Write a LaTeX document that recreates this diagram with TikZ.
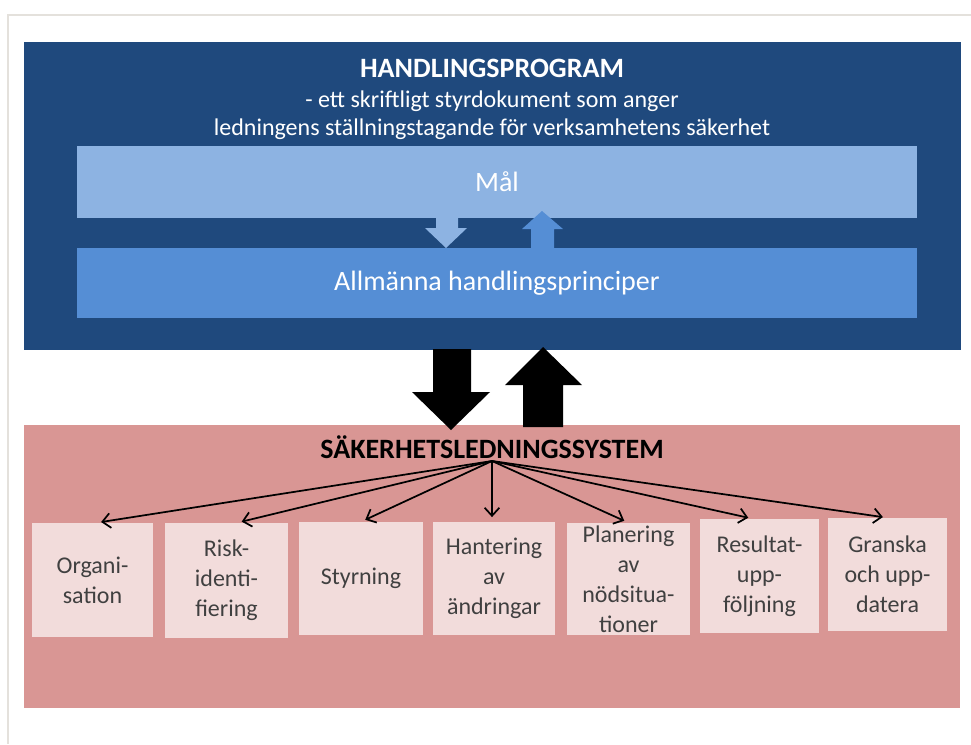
\documentclass[tikz,border=0pt]{standalone}
\usepackage{fontspec}
\setmainfont{Carlito}
\usetikzlibrary{arrows.meta}
\definecolor{dkblue}{HTML}{1F497D}
\definecolor{malblue}{HTML}{8DB3E2}
\definecolor{allmblue}{HTML}{558ED5}
\definecolor{pinkbg}{HTML}{D99694}
\definecolor{pinkbox}{HTML}{F2DCDB}
\definecolor{boxtxt}{HTML}{404040}
\definecolor{framegray}{HTML}{E4E1DC}
\begin{document}
\begin{tikzpicture}[x=0.75pt,y=-0.75pt,
  bigbox/.style={rectangle,inner sep=0pt,draw=none},
  subbox/.style={rectangle,inner sep=0pt,fill=pinkbox,draw=none},
  boxtext/.style={align=center,text=boxtxt,font=\fontsize{18}{22.5}\selectfont},
  whitetext/.style={text=white,align=center},
  conn/.style={line width=1.3pt,-{Straight Barb[length=6pt,width=11pt]},shorten >=3.5pt}]
\useasboundingbox (0,0) rectangle (971,744);
\fill[white] (0,0) rectangle (971,744);
\draw[framegray,line width=1.5pt] (8,744) -- (8,15) -- (971,15);

% top blue section
\node[bigbox,fill=dkblue,minimum width=702.75pt,minimum height=231pt] (prog) at (492.5,196) {};
\node[whitetext,font=\fontsize{21}{25}\selectfont\bfseries] (progtitle) at (492,68) {HANDLINGSPROGRAM};
\node[whitetext,font=\fontsize{18}{21}\selectfont] (sub1) at (492,101) {- ett skriftligt styrdokument som anger};
\node[whitetext,font=\fontsize{18}{21}\selectfont] (sub2) at (492,129) {ledningens ställningstagande för verksamhetens säkerhet};
\node[bigbox,fill=malblue,minimum width=630pt,minimum height=54pt,text=white,font=\fontsize{21}{25}\selectfont] (mal) at (497,182) {Mål};
\node[bigbox,fill=allmblue,minimum width=630pt,minimum height=52.5pt,text=white,font=\fontsize{21}{25}\selectfont] (allm) at (497,283) {Allmänna handlingsprinciper};
\fill[malblue] (436,217) -- (458,217) -- (458,228) -- (467,228) -- (446,248) -- (425,228) -- (436,228) -- cycle;
\fill[allmblue] (531,249) -- (554,249) -- (554,229) -- (563,229) -- (542,211) -- (522,229) -- (531,229) -- cycle;

% bottom pink section
\node[bigbox,fill=pinkbg,minimum width=702pt,minimum height=212.25pt] (sls) at (492,566.5) {};
\node[font=\fontsize{21}{25}\selectfont\bfseries,text=black] (slstitle) at (492,447) {SÄKERHETSLEDNINGSSYSTEM};
\coordinate (src) at (492,461);

% black block arrows
\fill[black] (433,349) -- (471,349) -- (471,392) -- (490,392) -- (451,430) -- (412,392) -- (433,392) -- cycle;
\fill[black] (523,427) -- (563,427) -- (563,385) -- (582,385) -- (543,347) -- (505,385) -- (523,385) -- cycle;

% sub boxes
\node[subbox,minimum width=90.75pt,minimum height=85.5pt,label={[boxtext]center:{Organi-\\sation}}] (org) at (92.5,580) {};
\node[subbox,minimum width=92.25pt,minimum height=86.25pt,label={[boxtext]center:{Risk-\\identi-\\fiering}}] (risk) at (226.5,580.5) {};
\node[subbox,minimum width=93pt,minimum height=84.75pt,label={[boxtext]center:{Styrning}}] (styr) at (361,578.5) {};
\node[subbox,minimum width=91.5pt,minimum height=84.75pt,label={[boxtext]center:{Hantering\\av\\ändringar}}] (hant) at (494,578.5) {};
\node[subbox,minimum width=92.25pt,minimum height=84pt,label={[boxtext]center:{Planering\\av\\nödsitua-\\tioner}}] (plan) at (628.5,579) {};
\node[subbox,minimum width=89.25pt,minimum height=85.5pt,label={[boxtext]center:{Resultat-\\upp-\\följning}}] (res) at (759.5,576) {};
\node[subbox,minimum width=89.25pt,minimum height=84.75pt,label={[boxtext]center:{Granska\\och upp-\\datera}}] (gran) at (887.5,574.5) {};

% connectors
\draw[conn] (src) -- ([xshift=3pt]org.north);
\draw[conn] (src) -- ([xshift=8pt]risk.north);
\draw[conn] (src) -- (styr.north);
\draw[conn] (src) -- (hant.north -| src);
\draw[conn] (src) -- (plan.north);
\draw[conn] (src) -- ([xshift=-5pt]res.north);
\draw[conn] (src) -- (gran.north);
\end{tikzpicture}
\end{document}
